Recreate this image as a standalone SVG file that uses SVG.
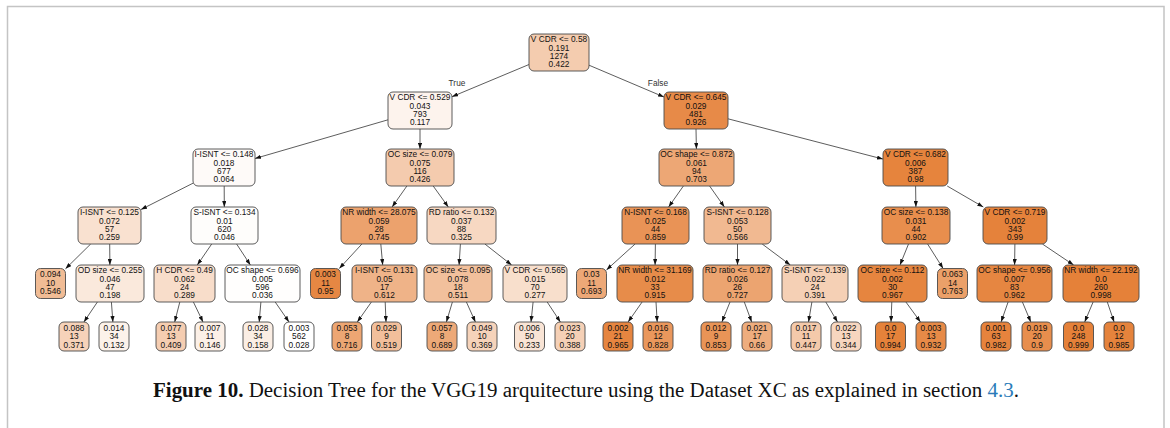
<svg xmlns="http://www.w3.org/2000/svg" width="1170" height="428" viewBox="0 0 1170 428">
  <style>
    .frame { stroke: #c4c4c4; stroke-width: 1.5; fill: none; }
    .box { stroke: #4a4a4a; stroke-width: 0.9; }
    .t { font-family: "Liberation Sans", Arial, sans-serif; font-size: 8.3px; fill: #111111; text-anchor: middle; }
    .edge { stroke: #333333; stroke-width: 0.8; fill: none; marker-end: url(#arrow); }
    .lbl { font-family: "Liberation Sans", Arial, sans-serif; font-size: 8.3px; fill: #333333; text-anchor: middle; }
    .cap { font-family: "Liberation Serif", "Times New Roman", serif; font-size: 20px; fill: #111111; }
  </style>
  <defs>
    <marker id="arrow" viewBox="0 0 10 7" refX="10" refY="3.5" markerUnits="userSpaceOnUse" markerWidth="6" markerHeight="4.2" orient="auto">
      <path d="M0,0 L10,3.5 L0,7 z" fill="#111111"/>
    </marker>
  </defs>

  <rect width="1170" height="428" fill="#ffffff"/>
  <path class="frame" d="M7.5,428 V6.5 H1164 V428"/>

  <!-- connectors -->
  <g id="edges">
    <line class="edge" x1="529" y1="64.5" x2="452" y2="96.7"/>
    <line class="edge" x1="589" y1="65.2" x2="664" y2="97"/>
    <line class="edge" x1="388" y1="119.8" x2="255" y2="158.5"/>
    <line class="edge" x1="420" y1="129" x2="420" y2="149"/>
    <line class="edge" x1="696" y1="129" x2="696.4" y2="149"/>
    <line class="edge" x1="728" y1="118.8" x2="883" y2="159.1"/>
    <line class="edge" x1="193" y1="183.2" x2="141" y2="209.5"/>
    <line class="edge" x1="224.2" y1="186" x2="224.3" y2="207"/>
    <line class="edge" x1="406.9" y1="186" x2="392.1" y2="207"/>
    <line class="edge" x1="433.2" y1="186" x2="448.3" y2="207"/>
    <line class="edge" x1="683.4" y1="186" x2="668.6" y2="207"/>
    <line class="edge" x1="709.6" y1="186" x2="724.4" y2="207"/>
    <line class="edge" x1="915.6" y1="186" x2="915.9" y2="207"/>
    <line class="edge" x1="947.2" y1="186" x2="983.3" y2="207"/>
    <line class="edge" x1="90.7" y1="244" x2="65.5" y2="268.8"/>
    <line class="edge" x1="109.7" y1="244" x2="109.9" y2="265"/>
    <line class="edge" x1="211.7" y1="244" x2="197.3" y2="265"/>
    <line class="edge" x1="236.6" y1="244" x2="250.4" y2="265"/>
    <line class="edge" x1="361.9" y1="244" x2="339.3" y2="268.5"/>
    <line class="edge" x1="380.8" y1="244" x2="382.7" y2="265"/>
    <line class="edge" x1="460.4" y1="244" x2="459.1" y2="265"/>
    <line class="edge" x1="484.9" y1="244" x2="511.6" y2="265"/>
    <line class="edge" x1="635.1" y1="244" x2="606.5" y2="269.9"/>
    <line class="edge" x1="655.4" y1="244" x2="655.1" y2="265"/>
    <line class="edge" x1="737.5" y1="244" x2="737.5" y2="265"/>
    <line class="edge" x1="762.2" y1="244" x2="790.3" y2="265"/>
    <line class="edge" x1="908.5" y1="244" x2="900" y2="265"/>
    <line class="edge" x1="927.6" y1="244" x2="943.1" y2="268.5"/>
    <line class="edge" x1="1014.9" y1="244" x2="1014.6" y2="265"/>
    <line class="edge" x1="1042.4" y1="244" x2="1073.6" y2="265"/>
    <line class="edge" x1="97.4" y1="302" x2="83.9" y2="322"/>
    <line class="edge" x1="111.4" y1="302" x2="112.9" y2="322"/>
    <line class="edge" x1="179.8" y1="302" x2="174.7" y2="322"/>
    <line class="edge" x1="193.4" y1="302" x2="203" y2="322"/>
    <line class="edge" x1="260.9" y1="302" x2="259.2" y2="322"/>
    <line class="edge" x1="275.2" y1="302" x2="289" y2="322"/>
    <line class="edge" x1="371.4" y1="302" x2="357.3" y2="322"/>
    <line class="edge" x1="385.2" y1="302" x2="386" y2="322"/>
    <line class="edge" x1="452.4" y1="302" x2="446.4" y2="322"/>
    <line class="edge" x1="466.4" y1="302" x2="475.4" y2="322"/>
    <line class="edge" x1="533.1" y1="302" x2="531" y2="322"/>
    <line class="edge" x1="547.2" y1="302" x2="560.4" y2="322"/>
    <line class="edge" x1="642.1" y1="302" x2="628.1" y2="322"/>
    <line class="edge" x1="656" y1="302" x2="657.2" y2="322"/>
    <line class="edge" x1="730" y1="302" x2="721.9" y2="322"/>
    <line class="edge" x1="744.3" y1="302" x2="751.7" y2="322"/>
    <line class="edge" x1="811.9" y1="302" x2="808.5" y2="322"/>
    <line class="edge" x1="825.8" y1="302" x2="837.5" y2="322"/>
    <line class="edge" x1="891.8" y1="302" x2="891" y2="322"/>
    <line class="edge" x1="905.9" y1="302" x2="920.5" y2="322"/>
    <line class="edge" x1="1008.1" y1="302" x2="1001.1" y2="322"/>
    <line class="edge" x1="1022.4" y1="302" x2="1030.8" y2="322"/>
    <line class="edge" x1="1093.1" y1="302" x2="1084.7" y2="322"/>
    <line class="edge" x1="1107.3" y1="302" x2="1114.1" y2="322"/>
    <text class="lbl" x="457" y="86">True</text>
    <text class="lbl" x="658" y="86">False</text>
  </g>

  <!-- level 0 -->
  <g id="n0"><rect class="box" x="529" y="34" width="60" height="37" rx="5" fill="#f4ccaf"/>
    <text class="t" x="559" y="42.4">V CDR &lt;= 0.58<tspan x="559" dy="8.3">0.191</tspan><tspan x="559" dy="8.3">1274</tspan><tspan x="559" dy="8.3">0.422</tspan></text></g>

  <!-- level 1 -->
  <g id="n1"><rect class="box" x="388" y="92" width="64" height="37" rx="5" fill="#fdf3ed"/>
    <text class="t" x="420" y="100.4">V CDR &lt;= 0.529<tspan x="420" dy="8.3">0.043</tspan><tspan x="420" dy="8.3">793</tspan><tspan x="420" dy="8.3">0.117</tspan></text></g>
  <g id="n2"><rect class="box" x="664" y="92" width="64" height="37" rx="5" fill="#e78a48"/>
    <text class="t" x="696" y="100.4">V CDR &lt;= 0.645<tspan x="696" dy="8.3">0.029</tspan><tspan x="696" dy="8.3">481</tspan><tspan x="696" dy="8.3">0.926</tspan></text></g>

  <!-- level 2 -->
  <g id="n3"><rect class="box" x="193" y="149" width="62" height="37" rx="5" fill="#fefaf8"/>
    <text class="t" x="224" y="157.4">I-ISNT &lt;= 0.148<tspan x="224" dy="8.3">0.018</tspan><tspan x="224" dy="8.3">677</tspan><tspan x="224" dy="8.3">0.064</tspan></text></g>
  <g id="n4"><rect class="box" x="386" y="149" width="68" height="37" rx="5" fill="#f4cbae"/>
    <text class="t" x="420" y="157.4">OC size &lt;= 0.079<tspan x="420" dy="8.3">0.075</tspan><tspan x="420" dy="8.3">116</tspan><tspan x="420" dy="8.3">0.426</tspan></text></g>
  <g id="n5"><rect class="box" x="659" y="149" width="75" height="37" rx="5" fill="#eda775"/>
    <text class="t" x="696.5" y="157.4">OC shape &lt;= 0.872<tspan x="696.5" dy="8.3">0.061</tspan><tspan x="696.5" dy="8.3">94</tspan><tspan x="696.5" dy="8.3">0.703</tspan></text></g>
  <g id="n6"><rect class="box" x="883" y="149" width="65" height="37" rx="5" fill="#e6843d"/>
    <text class="t" x="915.5" y="157.4">V CDR &lt;= 0.682<tspan x="915.5" dy="8.3">0.006</tspan><tspan x="915.5" dy="8.3">387</tspan><tspan x="915.5" dy="8.3">0.98</tspan></text></g>

  <!-- level 3 -->
  <g id="n7"><rect class="box" x="78" y="207" width="63" height="37" rx="5" fill="#f9e1d0"/>
    <text class="t" x="109.5" y="215.4">I-ISNT &lt;= 0.125<tspan x="109.5" dy="8.3">0.072</tspan><tspan x="109.5" dy="8.3">57</tspan><tspan x="109.5" dy="8.3">0.259</tspan></text></g>
  <g id="n8"><rect class="box" x="191" y="207" width="67" height="37" rx="5" fill="#fefdfb"/>
    <text class="t" x="224.5" y="215.4">S-ISNT &lt;= 0.134<tspan x="224.5" dy="8.3">0.01</tspan><tspan x="224.5" dy="8.3">620</tspan><tspan x="224.5" dy="8.3">0.046</tspan></text></g>
  <g id="n9"><rect class="box" x="341" y="207" width="76" height="37" rx="5" fill="#eca26d"/>
    <text class="t" x="379" y="215.4">NR width &lt;= 28.075<tspan x="379" dy="8.3">0.059</tspan><tspan x="379" dy="8.3">28</tspan><tspan x="379" dy="8.3">0.745</tspan></text></g>
  <g id="n10"><rect class="box" x="427" y="207" width="69" height="37" rx="5" fill="#f7d8c2"/>
    <text class="t" x="461.5" y="215.4">RD ratio &lt;= 0.132<tspan x="461.5" dy="8.3">0.037</tspan><tspan x="461.5" dy="8.3">88</tspan><tspan x="461.5" dy="8.3">0.325</tspan></text></g>
  <g id="n11"><rect class="box" x="622" y="207" width="67" height="37" rx="5" fill="#e99356"/>
    <text class="t" x="655.5" y="215.4">N-ISNT &lt;= 0.168<tspan x="655.5" dy="8.3">0.025</tspan><tspan x="655.5" dy="8.3">44</tspan><tspan x="655.5" dy="8.3">0.859</tspan></text></g>
  <g id="n12"><rect class="box" x="704" y="207" width="67" height="37" rx="5" fill="#f1b991"/>
    <text class="t" x="737.5" y="215.4">S-ISNT &lt;= 0.128<tspan x="737.5" dy="8.3">0.053</tspan><tspan x="737.5" dy="8.3">50</tspan><tspan x="737.5" dy="8.3">0.566</tspan></text></g>
  <g id="n13"><rect class="box" x="882" y="207" width="68" height="37" rx="5" fill="#e88e4d"/>
    <text class="t" x="916" y="215.4">OC size &lt;= 0.138<tspan x="916" dy="8.3">0.031</tspan><tspan x="916" dy="8.3">44</tspan><tspan x="916" dy="8.3">0.902</tspan></text></g>
  <g id="n14"><rect class="box" x="983" y="207" width="64" height="37" rx="5" fill="#e5823b"/>
    <text class="t" x="1015" y="215.4">V CDR &lt;= 0.719<tspan x="1015" dy="8.3">0.002</tspan><tspan x="1015" dy="8.3">343</tspan><tspan x="1015" dy="8.3">0.99</tspan></text></g>

  <!-- level 4 -->
  <g id="n15"><rect class="box" x="35.5" y="268.5" width="30" height="30" rx="5" fill="#f1bc95"/>
    <text class="t" x="50.5" y="277.2">0.094<tspan x="50.5" dy="8.4">10</tspan><tspan x="50.5" dy="8.4">0.546</tspan></text></g>
  <g id="n16"><rect class="box" x="76" y="265" width="68" height="37" rx="5" fill="#fae9dc"/>
    <text class="t" x="110" y="273.4">OD size &lt;= 0.255<tspan x="110" dy="8.3">0.046</tspan><tspan x="110" dy="8.3">47</tspan><tspan x="110" dy="8.3">0.198</tspan></text></g>
  <g id="n17"><rect class="box" x="154" y="265" width="61" height="37" rx="5" fill="#f8ddca"/>
    <text class="t" x="184.5" y="273.4">H CDR &lt;= 0.49<tspan x="184.5" dy="8.3">0.062</tspan><tspan x="184.5" dy="8.3">24</tspan><tspan x="184.5" dy="8.3">0.289</tspan></text></g>
  <g id="n18"><rect class="box" x="225" y="265" width="75" height="37" rx="5" fill="#fffefd"/>
    <text class="t" x="262.5" y="273.4">OC shape &lt;= 0.696<tspan x="262.5" dy="8.3">0.005</tspan><tspan x="262.5" dy="8.3">596</tspan><tspan x="262.5" dy="8.3">0.036</tspan></text></g>
  <g id="n19"><rect class="box" x="310.5" y="268.5" width="30" height="30" rx="5" fill="#e68743"/>
    <text class="t" x="325.5" y="277.2">0.003<tspan x="325.5" dy="8.4">11</tspan><tspan x="325.5" dy="8.4">0.95</tspan></text></g>
  <g id="n20"><rect class="box" x="352" y="265" width="65" height="37" rx="5" fill="#efb388"/>
    <text class="t" x="384.5" y="273.4">I-ISNT &lt;= 0.131<tspan x="384.5" dy="8.3">0.05</tspan><tspan x="384.5" dy="8.3">17</tspan><tspan x="384.5" dy="8.3">0.612</tspan></text></g>
  <g id="n21"><rect class="box" x="424" y="265" width="68" height="37" rx="5" fill="#f2c09c"/>
    <text class="t" x="458" y="273.4">OC size &lt;= 0.095<tspan x="458" dy="8.3">0.078</tspan><tspan x="458" dy="8.3">18</tspan><tspan x="458" dy="8.3">0.511</tspan></text></g>
  <g id="n22"><rect class="box" x="503" y="265" width="64" height="37" rx="5" fill="#f8dfcc"/>
    <text class="t" x="535" y="273.4">V CDR &lt;= 0.565<tspan x="535" dy="8.3">0.015</tspan><tspan x="535" dy="8.3">70</tspan><tspan x="535" dy="8.3">0.277</tspan></text></g>
  <g id="n23"><rect class="box" x="576.5" y="268.5" width="30" height="30" rx="5" fill="#eda877"/>
    <text class="t" x="591.5" y="277.2">0.03<tspan x="591.5" dy="8.4">11</tspan><tspan x="591.5" dy="8.4">0.693</tspan></text></g>
  <g id="n24"><rect class="box" x="617" y="265" width="76" height="37" rx="5" fill="#e78c4a"/>
    <text class="t" x="655" y="273.4">NR width &lt;= 31.169<tspan x="655" dy="8.3">0.012</tspan><tspan x="655" dy="8.3">33</tspan><tspan x="655" dy="8.3">0.915</tspan></text></g>
  <g id="n25"><rect class="box" x="703" y="265" width="69" height="37" rx="5" fill="#eca470"/>
    <text class="t" x="737.5" y="273.4">RD ratio &lt;= 0.127<tspan x="737.5" dy="8.3">0.026</tspan><tspan x="737.5" dy="8.3">26</tspan><tspan x="737.5" dy="8.3">0.727</tspan></text></g>
  <g id="n26"><rect class="box" x="782" y="265" width="66" height="37" rx="5" fill="#f5d0b5"/>
    <text class="t" x="815" y="273.4">S-ISNT &lt;= 0.139<tspan x="815" dy="8.3">0.022</tspan><tspan x="815" dy="8.3">24</tspan><tspan x="815" dy="8.3">0.391</tspan></text></g>
  <g id="n27"><rect class="box" x="858" y="265" width="69" height="37" rx="5" fill="#e6853f"/>
    <text class="t" x="892.5" y="273.4">OC size &lt;= 0.112<tspan x="892.5" dy="8.3">0.002</tspan><tspan x="892.5" dy="8.3">30</tspan><tspan x="892.5" dy="8.3">0.967</tspan></text></g>
  <g id="n28"><rect class="box" x="937.5" y="268.5" width="30" height="30" rx="5" fill="#eba069"/>
    <text class="t" x="952.5" y="277.2">0.063<tspan x="952.5" dy="8.4">14</tspan><tspan x="952.5" dy="8.4">0.763</tspan></text></g>
  <g id="n29"><rect class="box" x="977" y="265" width="75" height="37" rx="5" fill="#e68641"/>
    <text class="t" x="1014.5" y="273.4">OC shape &lt;= 0.956<tspan x="1014.5" dy="8.3">0.007</tspan><tspan x="1014.5" dy="8.3">83</tspan><tspan x="1014.5" dy="8.3">0.962</tspan></text></g>
  <g id="n30"><rect class="box" x="1063" y="265" width="76" height="37" rx="5" fill="#e58139"/>
    <text class="t" x="1101" y="273.4">NR width &lt;= 22.192<tspan x="1101" dy="8.3">0.0</tspan><tspan x="1101" dy="8.3">260</tspan><tspan x="1101" dy="8.3">0.998</tspan></text></g>

  <!-- level 5 leaves -->
  <g id="n31"><rect class="box" x="59" y="322" width="30" height="29" rx="5" fill="#f6d2b9"/>
    <text class="t" x="74" y="330.7">0.088<tspan x="74" dy="8.5">13</tspan><tspan x="74" dy="8.5">0.371</tspan></text></g>
  <g id="n32"><rect class="box" x="99" y="322" width="30" height="29" rx="5" fill="#fcf2ea"/>
    <text class="t" x="114" y="330.7">0.014<tspan x="114" dy="8.5">34</tspan><tspan x="114" dy="8.5">0.132</tspan></text></g>
  <g id="n33"><rect class="box" x="156" y="322" width="30" height="29" rx="5" fill="#f5cdb1"/>
    <text class="t" x="171" y="330.7">0.077<tspan x="171" dy="8.5">13</tspan><tspan x="171" dy="8.5">0.409</tspan></text></g>
  <g id="n34"><rect class="box" x="195" y="322" width="30" height="29" rx="5" fill="#fcf0e7"/>
    <text class="t" x="210" y="330.7">0.007<tspan x="210" dy="8.5">11</tspan><tspan x="210" dy="8.5">0.146</tspan></text></g>
  <g id="n35"><rect class="box" x="243" y="322" width="30" height="29" rx="5" fill="#fbeee4"/>
    <text class="t" x="258" y="330.7">0.028<tspan x="258" dy="8.5">34</tspan><tspan x="258" dy="8.5">0.158</tspan></text></g>
  <g id="n36"><rect class="box" x="284" y="322" width="30" height="29" rx="5" fill="#ffffff"/>
    <text class="t" x="299" y="330.7">0.003<tspan x="299" dy="8.5">562</tspan><tspan x="299" dy="8.5">0.028</tspan></text></g>
  <g id="n37"><rect class="box" x="332" y="322" width="30" height="29" rx="5" fill="#eda673"/>
    <text class="t" x="347" y="330.7">0.053<tspan x="347" dy="8.5">8</tspan><tspan x="347" dy="8.5">0.716</tspan></text></g>
  <g id="n38"><rect class="box" x="371.5" y="322" width="30" height="29" rx="5" fill="#f2bf9b"/>
    <text class="t" x="386.5" y="330.7">0.029<tspan x="386.5" dy="8.5">9</tspan><tspan x="386.5" dy="8.5">0.519</tspan></text></g>
  <g id="n39"><rect class="box" x="427" y="322" width="30" height="29" rx="5" fill="#eda978"/>
    <text class="t" x="442" y="330.7">0.057<tspan x="442" dy="8.5">8</tspan><tspan x="442" dy="8.5">0.689</tspan></text></g>
  <g id="n40"><rect class="box" x="467" y="322" width="30" height="29" rx="5" fill="#f6d3ba"/>
    <text class="t" x="482" y="330.7">0.049<tspan x="482" dy="8.5">10</tspan><tspan x="482" dy="8.5">0.369</tspan></text></g>
  <g id="n41"><rect class="box" x="514.5" y="322" width="30" height="29" rx="5" fill="#f9e4d5"/>
    <text class="t" x="529.5" y="330.7">0.006<tspan x="529.5" dy="8.5">50</tspan><tspan x="529.5" dy="8.5">0.233</tspan></text></g>
  <g id="n42"><rect class="box" x="555" y="322" width="30" height="29" rx="5" fill="#f5d0b6"/>
    <text class="t" x="570" y="330.7">0.023<tspan x="570" dy="8.5">20</tspan><tspan x="570" dy="8.5">0.388</tspan></text></g>
  <g id="n43"><rect class="box" x="603" y="322" width="30" height="29" rx="5" fill="#e68540"/>
    <text class="t" x="618" y="330.7">0.002<tspan x="618" dy="8.5">21</tspan><tspan x="618" dy="8.5">0.965</tspan></text></g>
  <g id="n44"><rect class="box" x="643" y="322" width="30" height="29" rx="5" fill="#ea975c"/>
    <text class="t" x="658" y="330.7">0.016<tspan x="658" dy="8.5">12</tspan><tspan x="658" dy="8.5">0.828</tspan></text></g>
  <g id="n45"><rect class="box" x="701" y="322" width="30" height="29" rx="5" fill="#e99457"/>
    <text class="t" x="716" y="330.7">0.012<tspan x="716" dy="8.5">9</tspan><tspan x="716" dy="8.5">0.853</tspan></text></g>
  <g id="n46"><rect class="box" x="742" y="322" width="30" height="29" rx="5" fill="#eead7e"/>
    <text class="t" x="757" y="330.7">0.021<tspan x="757" dy="8.5">17</tspan><tspan x="757" dy="8.5">0.66</tspan></text></g>
  <g id="n47"><rect class="box" x="791" y="322" width="30" height="29" rx="5" fill="#f4c9aa"/>
    <text class="t" x="806" y="330.7">0.017<tspan x="806" dy="8.5">11</tspan><tspan x="806" dy="8.5">0.447</tspan></text></g>
  <g id="n48"><rect class="box" x="831" y="322" width="30" height="29" rx="5" fill="#f7d6bf"/>
    <text class="t" x="846" y="330.7">0.022<tspan x="846" dy="8.5">13</tspan><tspan x="846" dy="8.5">0.344</tspan></text></g>
  <g id="n49"><rect class="box" x="875.5" y="322" width="30" height="29" rx="5" fill="#e5823a"/>
    <text class="t" x="890.5" y="330.7">0.0<tspan x="890.5" dy="8.5">17</tspan><tspan x="890.5" dy="8.5">0.994</tspan></text></g>
  <g id="n50"><rect class="box" x="916" y="322" width="30" height="29" rx="5" fill="#e78a47"/>
    <text class="t" x="931" y="330.7">0.003<tspan x="931" dy="8.5">13</tspan><tspan x="931" dy="8.5">0.932</tspan></text></g>
  <g id="n51"><rect class="box" x="981" y="322" width="30" height="29" rx="5" fill="#e6833d"/>
    <text class="t" x="996" y="330.7">0.001<tspan x="996" dy="8.5">63</tspan><tspan x="996" dy="8.5">0.982</tspan></text></g>
  <g id="n52"><rect class="box" x="1022" y="322" width="30" height="29" rx="5" fill="#e88e4d"/>
    <text class="t" x="1037" y="330.7">0.019<tspan x="1037" dy="8.5">20</tspan><tspan x="1037" dy="8.5">0.9</tspan></text></g>
  <g id="n53"><rect class="box" x="1063.5" y="322" width="30" height="29" rx="5" fill="#e58139"/>
    <text class="t" x="1078.5" y="330.7">0.0<tspan x="1078.5" dy="8.5">248</tspan><tspan x="1078.5" dy="8.5">0.999</tspan></text></g>
  <g id="n54"><rect class="box" x="1104" y="322" width="30" height="29" rx="5" fill="#e5833c"/>
    <text class="t" x="1119" y="330.7">0.0<tspan x="1119" dy="8.5">12</tspan><tspan x="1119" dy="8.5">0.985</tspan></text></g>

  <!-- caption -->
  <text class="cap" x="153" y="397" textLength="866" lengthAdjust="spacingAndGlyphs"><tspan font-weight="bold">Figure 10.</tspan> Decision Tree for the VGG19 arquitecture using the Dataset XC as explained in section <tspan fill="#2b7bb9">4.3</tspan>.</text>
</svg>
